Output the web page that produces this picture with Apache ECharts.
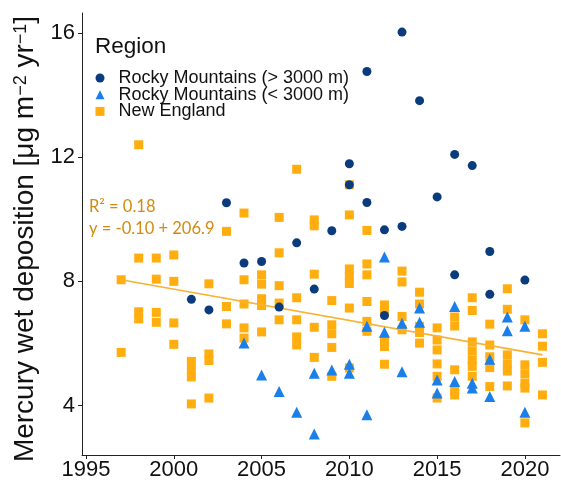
<!DOCTYPE html>
<html><head><meta charset="utf-8">
<script src="https://cdn.jsdelivr.net/npm/echarts@6/dist/echarts.min.js"></script>
<style>html,body{margin:0;padding:0;background:#fff}#c{width:561px;height:482px}</style>
</head><body><div id="c"></div><script>
const regions = ['Rocky Mountains (> 3000 m)', 'Rocky Mountains (< 3000 m)', 'New England'];

const highYears = [2001,2002,2003,2004,2005,2006,2007,2008,2009,2010,2010,2011,2011,2012,2012,2013,2013,2014,2015,2016,2016,2017,2018,2018,2020];
const highValues = [7.42,7.08,10.53,8.59,8.64,7.17,9.24,7.75,9.63,11.79,11.11,14.76,10.54,9.66,6.90,16.03,9.77,13.82,10.72,12.09,8.21,11.73,8.96,7.58,8.04];

const lowYears = [2004,2005,2006,2007,2008,2008,2009,2010,2010,2011,2011,2012,2012,2013,2013,2014,2014,2015,2015,2016,2016,2017,2017,2018,2018,2019,2019,2020,2020];
const lowValues = [6.01,4.98,4.45,3.78,5.04,3.08,5.14,5.33,5.04,6.55,3.70,8.78,6.36,6.65,5.09,7.14,6.68,4.82,4.40,7.19,4.77,4.72,4.56,5.49,4.29,6.85,6.41,6.55,3.78];

const neYears = [
  1997,1997,
  1998,1998,1998,1998,
  1999,1999,1999,1999,
  2000,2000,2000,2000,
  2001,2001,2001,2001,
  2002,2002,2002,2002,
  2003,2003,2003,
  2004,2004,2004,2004,2004,
  2005,2005,2005,2005,2005,
  2006,2006,2006,2006,2006,
  2007,2007,2007,2007,2007,
  2008,2008,2008,2008,2008,
  2009,2009,2009,2009,2009,
  2010,2010,2010,2010,2010,2010,2010,
  2011,2011,2011,2011,2011,2011,
  2012,2012,2012,2012,2012,
  2013,2013,2013,2013,
  2014,2014,2014,2014,2014,
  2015,2015,2015,2015,2015,2015,
  2016,2016,2016,2016,2016,
  2017,2017,2017,2017,2017,2017,2017,
  2018,2018,2018,2018,2018,
  2019,2019,2019,2019,2019,2019,
  2020,2020,2020,2020,2020,2020,
  2021,2021,2021,2021
];
const neValues = [
  8.05,5.71,
  12.40,8.75,7.02,6.79,
  8.75,8.07,7.00,6.68,
  8.85,8.00,6.66,5.97,
  5.42,5.15,4.92,4.05,
  7.92,5.66,5.45,4.24,
  9.61,7.19,6.63,
  10.20,8.05,7.27,6.50,6.17,
  8.21,7.91,7.44,7.22,6.37,
  10.06,8.92,7.86,7.30,6.76,
  11.61,7.47,6.76,6.21,5.95,
  9.98,9.79,8.23,6.52,5.55,
  7.38,6.60,6.31,5.87,4.94,
  11.11,10.14,8.40,8.15,7.93,7.14,5.21,
  9.64,8.56,8.21,7.35,6.71,6.39,
  7.24,7.02,6.11,5.90,5.33,
  8.33,7.98,6.87,6.44,
  7.65,7.27,6.55,6.35,6.01,
  6.50,6.11,5.79,5.34,4.94,4.24,
  6.85,6.56,5.15,4.50,4.34,
  7.47,7.06,6.05,5.76,5.47,5.26,4.94,
  6.62,5.95,5.57,5.22,4.61,
  7.76,7.10,5.63,5.34,5.11,4.63,
  6.76,5.31,5.02,4.72,4.56,3.44,
  6.31,5.91,5.39,4.34
];

const trendYears = [1997, 2021];
const trendValues = [8.05, 5.63];

const xTicks = [1995, 2000, 2005, 2010, 2015, 2020];
const yTicks = [4, 8, 12, 16];

const annotationLines = ['R\u00B2 = 0.18', 'y = -0.10 + 206.9'];

const zip = (xs, ys) => xs.map((x, i) => [x, ys[i]]);

const SANS = '"Liberation Sans", Arial, sans-serif';
const axisColor = '#222';

const chart = echarts.init(document.getElementById('c'), null, {renderer: 'canvas'});
chart.setOption({
  animation: false,
  backgroundColor: '#fff',
  title: {
    text: 'Region', left: 95, top: 35, padding: 0,
    textStyle: {fontSize: 22.5, fontWeight: 'normal', color: '#111', fontFamily: SANS}
  },
  legend: {
    orient: 'vertical', left: 95.5, top: 69, padding: 0,
    itemWidth: 9, itemHeight: 9, itemGap: -1.3,
    textStyle: {fontSize: 18, lineHeight: 16.7, color: '#111', fontFamily: SANS, padding: [0, 0, 0, 9]},
    data: [
      {name: regions[0], icon: 'circle'},
      {name: regions[1], icon: 'triangle'},
      {name: regions[2], icon: 'rect'}
    ]
  },
  grid: {left: 82, right: 1, top: 13, bottom: 27},
  xAxis: {
    type: 'value', min: 1994.77, max: 2022.0,
    axisLine: {show: true, lineStyle: {color: axisColor, width: 1}},
    axisTick: {show: true, length: 4, customValues: xTicks, lineStyle: {color: axisColor}},
    axisLabel: {customValues: xTicks, fontSize: 22, color: '#111', margin: 4, fontFamily: SANS,
      formatter: v => String(v)},
    splitLine: {show: false}
  },
  yAxis: {
    type: 'value', min: 2.405, max: 16.645,
    axisLine: {show: true, lineStyle: {color: axisColor, width: 1}},
    axisTick: {show: true, length: 4, customValues: yTicks, lineStyle: {color: axisColor}},
    axisLabel: {customValues: yTicks, fontSize: 22, color: '#111', margin: 7, fontFamily: SANS,
      formatter: v => String(v)},
    splitLine: {show: false},
    name: 'Mercury wet deposition [\u03BCg m{s|\u22122} yr{s|\u22121}]',
    nameLocation: 'middle', nameRotate: 90, nameGap: 34,
    nameTextStyle: {
      fontSize: 28, color: '#111', fontFamily: SANS, padding: [0, 10, 0, 0],
      rich: {s: {fontSize: 18, color: '#111', fontFamily: SANS, verticalAlign: 'top'}}
    }
  },
  graphic: annotationLines.map((t, i) => ({
    type: 'text', left: 89, top: 198 + i * 22, silent: true,
    style: {text: t, fill: '#D38A10', font: '16.5px Lato, "Open Sans", sans-serif'}
  })),
  series: [
    {
      name: regions[2], type: 'scatter', symbol: 'rect', symbolSize: 9,
      itemStyle: {color: '#FFAD0F', opacity: 1}, data: zip(neYears, neValues), z: 2
    },
    {
      type: 'line', data: zip(trendYears, trendValues), symbol: 'none', silent: true,
      lineStyle: {color: '#F8B234', width: 1.6}, z: 3
    },
    {
      name: regions[0], type: 'scatter', symbol: 'circle', symbolSize: 9,
      itemStyle: {color: '#0A3B7C', opacity: 1}, data: zip(highYears, highValues), z: 4
    },
    {
      name: regions[1], type: 'scatter', symbol: 'triangle', symbolSize: 11,
      itemStyle: {color: '#1B7FEA', opacity: 1}, data: zip(lowYears, lowValues), z: 5
    }
  ]
});
</script></body></html>
